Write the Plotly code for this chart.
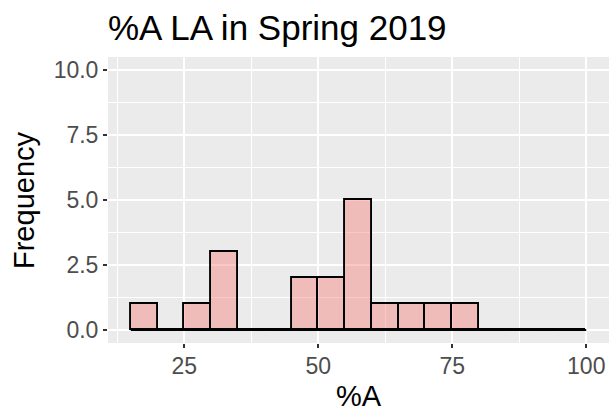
import plotly.graph_objects as go

# histogram of %A, binwidth 5
bin_left = [15, 20, 25, 30, 35, 40, 45, 50, 55, 60, 65, 70, 75, 80, 85, 90, 95]
counts = [1, 0, 1, 3, 0, 0, 2, 2, 5, 1, 1, 1, 1, 0, 0, 0, 0]
bin_width = 5

x_ticks = [25, 50, 75, 100]
y_ticks = [0, 2.5, 5.0, 7.5, 10.0]
y_tick_text = ["0.0", "2.5", "5.0", "7.5", "10.0"]

FONT = "Liberation Sans, Arial, Helvetica, sans-serif"
PANEL = "#EBEBEB"

centers = [b + bin_width / 2 for b in bin_left]
x_lo, x_hi = bin_left[0], bin_left[-1] + bin_width

fig = go.Figure()
# baseline drawn by ggplot for empty bins / bar bottoms
fig.add_trace(go.Scatter(
    x=[x_lo, x_hi], y=[0, 0], mode="lines",
    line=dict(color="black", width=1.8), hoverinfo="skip", showlegend=False,
))
fig.add_trace(go.Bar(
    x=centers, y=counts, width=bin_width,
    marker=dict(color="rgba(248,118,109,0.4)", line=dict(color="black", width=1.9)),
    showlegend=False,
    hovertemplate="%{x}<br>Count: %{y}<extra></extra>",
))

span = x_hi - x_lo
fig.update_layout(
    width=615, height=413,
    margin=dict(l=108, r=6, t=57, b=70),
    paper_bgcolor="white", plot_bgcolor=PANEL,
    font=dict(family=FONT, color="black"),
    bargap=0,
    title=dict(
        text="%A LA in Spring 2019", x=108 / 615, xanchor="left", xref="container",
        y=1 - 28 / 413, yanchor="middle", yref="container",
        font=dict(size=35, color="black", family=FONT),
    ),
    annotations=[
        dict(text="%A", xref="paper", yref="paper", x=0.5, y=0, xanchor="center",
             yanchor="top", yshift=-35, showarrow=False,
             font=dict(size=29, color="black", family=FONT)),
        dict(text="Frequency", xref="paper", yref="paper", x=0, y=0.5, xanchor="center",
             yanchor="middle", xshift=-84, textangle=-90, showarrow=False,
             font=dict(size=29, color="black", family=FONT)),
    ],
)
fig.update_xaxes(
    range=[x_lo - 0.05 * span, x_hi + 0.05 * span], automargin=False,
    tickvals=x_ticks, ticks="outside", ticklen=4, tickwidth=1.5, tickcolor="#333333",
    tickfont=dict(size=23, color="#4D4D4D"), ticklabelstandoff=-2,
    showgrid=True, gridcolor="white", gridwidth=1.6, zeroline=False, showline=False,
    minor=dict(dtick=12.5, tick0=0, showgrid=True, gridcolor="white", gridwidth=0.8, ticks=""),
)
fig.update_yaxes(
    range=[-0.5, 10.5], automargin=False,
    tickvals=y_ticks, ticktext=y_tick_text, ticks="outside", ticklen=4, tickwidth=1.5,
    tickcolor="#333333", tickfont=dict(size=23, color="#4D4D4D"),
    showgrid=True, gridcolor="white", gridwidth=1.6, zeroline=False, showline=False,
    minor=dict(dtick=1.25, tick0=0, showgrid=True, gridcolor="white", gridwidth=0.8, ticks=""),
)

# drop the default 8px page margin so the figure fills the window
fig.write_html(
    "out.html",
    config={"displayModeBar": False},
    post_script="document.body.style.margin='0';",
)
